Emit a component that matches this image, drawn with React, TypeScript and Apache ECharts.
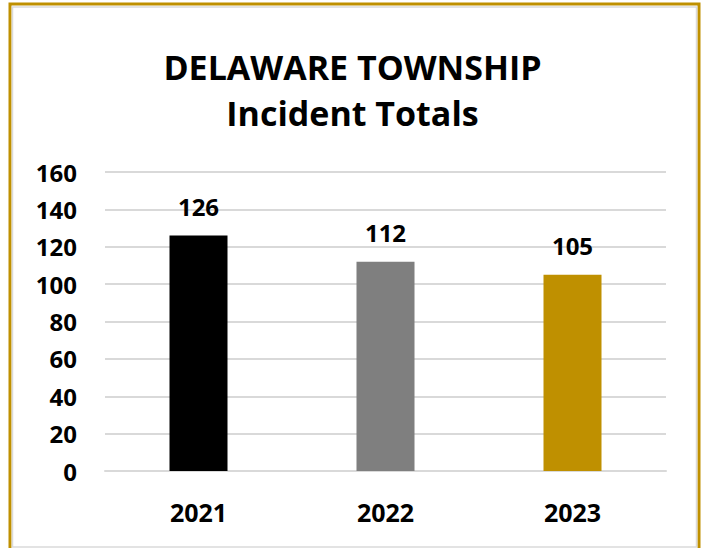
import React, { useEffect, useRef } from "react";
import * as echarts from "echarts";

const categories = ["2021", "2022", "2023"];
const values = [126, 112, 105];
const barColors = ["#000000", "#7F7F7F", "#BF9000"];
const yTicks = [0, 20, 40, 60, 80, 100, 120, 140, 160];

const FONT = "'Open Sans', 'Noto Sans', sans-serif";

export default function App() {
  const ref = useRef<HTMLDivElement>(null);
  useEffect(() => {
    document.body.style.margin = "0";
    const chart = echarts.init(ref.current!, null, { renderer: "svg" });
    chart.setOption({
      animation: false,
      backgroundColor: "#ffffff",
      title: {
        text: "DELAWARE TOWNSHIP\nIncident Totals",
        left: "center",
        top: 39,
        textStyle: {
          fontFamily: FONT,
          fontWeight: "bold",
          fontSize: 34,
          lineHeight: 46,
          color: "#000000",
        },
      },
      graphic: [
        {
          type: "rect",
          shape: { x: 10, y: 4, width: 689, height: 560 },
          style: { fill: "none", stroke: "#BF9000", lineWidth: 3 },
          silent: true,
        },
        {
          type: "rect",
          shape: { x: 12.5, y: 7, width: 684, height: 540 },
          style: { fill: "none", stroke: "#DADADA", lineWidth: 1.5 },
          silent: true,
        },
      ],
      grid: { left: 105, right: 39, top: 172, bottom: 77 },
      xAxis: {
        type: "category",
        data: categories,
        axisLine: { lineStyle: { color: "#D9D9D9", width: 2 } },
        axisTick: { show: false },
        axisLabel: {
          margin: 28,
          fontFamily: FONT,
          fontWeight: "bold",
          fontSize: 25,
          color: "#000000",
        },
      },
      yAxis: {
        type: "value",
        min: yTicks[0],
        max: yTicks[yTicks.length - 1],
        interval: 20,
        axisLine: { show: false },
        axisTick: { show: false },
        splitLine: { lineStyle: { color: "#D9D9D9", width: 2 } },
        axisLabel: {
          margin: 28,
          fontFamily: FONT,
          fontWeight: "bold",
          fontSize: 24,
          color: "#000000",
        },
      },
      series: [
        {
          type: "bar",
          barWidth: 58,
          data: values.map((v, i) => ({ value: v, itemStyle: { color: barColors[i] } })),
          label: {
            show: true,
            position: "top",
            distance: 17,
            fontFamily: FONT,
            fontWeight: "bold",
            fontSize: 24,
            color: "#000000",
          },
        },
      ],
    });
    return () => chart.dispose();
  }, []);
  return <div ref={ref} style={{ width: 705, height: 548 }} />;
}
